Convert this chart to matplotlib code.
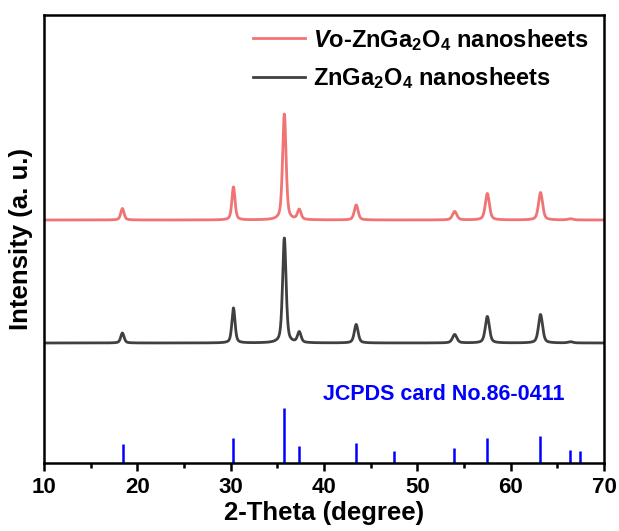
import numpy as np
import matplotlib
matplotlib.use("Agg")
import matplotlib.pyplot as plt
from matplotlib.ticker import MultipleLocator

plt.rcParams['font.family'] = ['Liberation Sans', 'DejaVu Sans']
plt.rcParams['font.weight'] = 'bold'
plt.rcParams['mathtext.fontset'] = 'custom'
plt.rcParams['mathtext.rm'] = 'Liberation Sans:bold'
plt.rcParams['mathtext.bf'] = 'Liberation Sans:bold'
plt.rcParams['mathtext.it'] = 'Liberation Sans:bold:italic'

# ---- data ----
peak_pos = [18.4, 30.3, 35.75, 37.35, 43.45, 54.0, 57.5, 63.2, 66.4]
peak_fwhm = [0.42, 0.40, 0.44, 0.45, 0.48, 0.55, 0.52, 0.52, 0.6]
vo_heights = [11.5, 33, 106, 10, 15, 8.5, 26.5, 27.5, 1.2]
zn_heights = [10, 35, 105, 10.5, 18.5, 8.5, 26.5, 28.5, 1.2]
vo_offset = 243
zn_offset = 120

ref_pos = [18.44, 30.3, 35.7, 37.35, 43.46, 47.55, 53.9, 57.47, 63.15, 66.38, 67.43]
ref_int = [18.8, 24.7, 55, 17.4, 19.7, 12.2, 15.5, 25.3, 26.6, 12.8, 12.2]

x_ticks = [10, 20, 30, 40, 50, 60, 70]

two_theta = np.linspace(10, 70, 3001)


def profile(heights, offset):
    y = np.full_like(two_theta, float(offset))
    for p, w, h in zip(peak_pos, peak_fwhm, heights):
        hw = w / 2
        lor = 1 / (1 + ((two_theta - p) / hw) ** 2)
        gau = np.exp(-np.log(2) * ((two_theta - p) / hw) ** 2)
        y += h * (0.5 * lor + 0.5 * gau)
    return y


fig = plt.figure(figsize=(6.19, 5.31), dpi=100)
ax = fig.add_axes([44 / 619, 1 - 463 / 531, 560 / 619, 448 / 531])

ax.plot(two_theta, profile(vo_heights, vo_offset), color='#F07474', lw=2.0,
        label=r'$\mathit{V}$o-ZnGa$_2$O$_4$ nanosheets')
ax.plot(two_theta, profile(zn_heights, zn_offset), color='#404040', lw=2.0,
        label=r'ZnGa$_2$O$_4$ nanosheets')
ax.vlines(ref_pos, 0, ref_int, color='#0000FF', lw=1.8)

ax.text(0.93, 0.152, 'JCPDS card No.86-0411', transform=ax.transAxes,
        color='#0000FF', fontsize=15.5, fontweight='bold', ha='right', va='center')

ax.set_xlim(10, 70)
ax.set_ylim(0, 448)
ax.set_xticks(x_ticks)
ax.xaxis.set_minor_locator(MultipleLocator(5))
ax.set_yticks([])
ax.tick_params(axis='x', which='major', direction='out', length=6, width=1.8,
               labelsize=16, pad=4)
ax.tick_params(axis='x', which='minor', direction='out', length=3.5, width=1.8)
for lab in ax.get_xticklabels():
    lab.set_fontweight('bold')
for s in ax.spines.values():
    s.set_linewidth(1.8)

ax.set_xlabel('2-Theta (degree)', fontsize=18.5, fontweight='bold', labelpad=2)
ax.set_ylabel('Intensity (a. u.)', fontsize=18.5, fontweight='bold', labelpad=8)

leg = ax.legend(loc='upper right', frameon=False, fontsize=17, handlelength=2.2,
                handletextpad=0.35, labelspacing=0.55, borderaxespad=0.0,
                bbox_to_anchor=(0.99, 0.995))

fig.savefig('out.png', dpi=100)
